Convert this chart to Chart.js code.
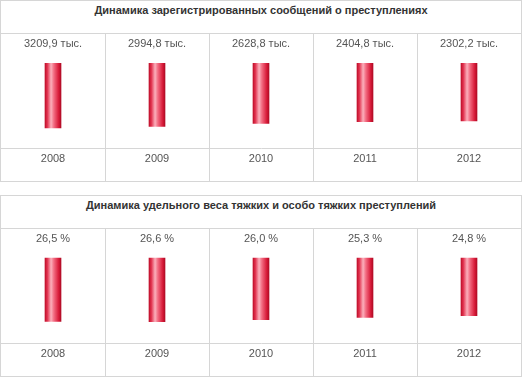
<!DOCTYPE html>
<html>
<head>
<meta charset="utf-8">
<script src="https://cdn.jsdelivr.net/npm/chart.js@4.4.1/dist/chart.umd.min.js"></script>
<style>
    body { margin: 0; background: #fff; font-family: "Liberation Sans", Arial, sans-serif; }
    .panel {
        position: absolute;
        left: 0;
        width: 522px;
        height: 182px;
        box-sizing: border-box;
        border: 1px solid #d6d6d6;
    }
    .panel-title {
        height: 33px;
        box-sizing: border-box;
        border-bottom: 1px solid #d6d6d6;
        text-align: center;
        font-weight: bold;
        font-size: 11px;
        line-height: 18px;
        color: #333;
    }
    .chart-box { position: relative; width: 520px; height: 147px; }
</style>
</head>
<body>

<div class="panel" style="top: 0;">
    <div class="panel-title">Динамика зарегистрированных сообщений о преступлениях</div>
    <div class="chart-box"><canvas id="reports-chart"></canvas></div>
</div>

<div class="panel" style="top: 195px;">
    <div class="panel-title">Динамика удельного веса тяжких и особо тяжких преступлений</div>
    <div class="chart-box"><canvas id="grave-chart"></canvas></div>
</div>

<script>
// Data
const years = ['2008', '2009', '2010', '2011', '2012'];
const reportsValues = [3209.9, 2994.8, 2628.8, 2404.8, 2302.2];   // тыс.
const graveShare = [26.5, 26.6, 26.0, 25.3, 24.8];                // %

const gridColor = '#d6d6d6';
const textColor = '#555';
const fontFamily = '"Liberation Sans", Arial, sans-serif';

// share of the plot height above the years row
const rowSplit = 114 / 147;

// Format value labels with comma decimal separator
function fmt(v, suffix) {
    return v.toFixed(1).replace('.', ',') + ' ' + suffix;
}

// Cylinder-like gradient for every bar, built from the bar's own x position
function barGradient(context) {
    const chart = context.chart;
    if (!chart.chartArea || context.dataIndex === undefined) return '#e0203c';
    const cx = chart.scales.x.getPixelForValue(context.dataIndex);
    const g = chart.ctx.createLinearGradient(cx - 8, 0, cx + 8, 0);
    g.addColorStop(0, '#c00f2b');
    g.addColorStop(0.15, '#e23450');
    g.addColorStop(0.38, '#fbb0bc');
    g.addColorStop(0.56, '#f26a80');
    g.addColorStop(0.85, '#d81c3a');
    g.addColorStop(1, '#b00a24');
    return g;
}

// Draws value text above the start of every bar
const valueLabels = {
    id: 'valueLabels',
    afterDatasetsDraw(chart, args, opts) {
        const ctx = chart.ctx;
        const meta = chart.getDatasetMeta(0);
        ctx.save();
        ctx.font = '11px ' + fontFamily;
        ctx.fillStyle = textColor;
        ctx.textAlign = 'center';
        ctx.textBaseline = 'middle';
        meta.data.forEach((bar, i) => {
            const top = Math.min(bar.y, bar.base);
            ctx.fillText(opts.format(chart.data.datasets[0].data[i]), bar.x, top - 19);
        });
        ctx.restore();
    }
};

function renderPanel(canvasId, values, base, yMin, yMax, suffix) {
    const ctx = document.getElementById(canvasId);
    return new Chart(ctx, {
        type: 'bar',
        data: {
            labels: years,
            datasets: [{
                data: values,
                base: base,
                backgroundColor: barGradient,
                borderWidth: 0,
                barThickness: 16
            }]
        },
        plugins: [valueLabels],
        options: {
            responsive: true,
            maintainAspectRatio: false,
            animation: false,
            layout: { padding: 0 },
            plugins: {
                legend: { display: false },
                tooltip: { enabled: false },
                valueLabels: { format: v => fmt(v, suffix) }
            },
            scales: {
                x: {
                    // axis sits inside the plot, years row below it
                    position: { y: yMin + (yMax - yMin) * rowSplit },
                    grid: {
                        offset: true,
                        // outer edges are drawn by the panel border
                        color: c => (c.index === undefined || c.index === 0) ? 'rgba(0,0,0,0)' : gridColor,
                        drawTicks: false
                    },
                    border: { display: true, color: gridColor },
                    ticks: {
                        color: textColor,
                        padding: 4,
                        font: { family: fontFamily, size: 11 }
                    }
                },
                y: {
                    display: false,
                    reverse: true,
                    min: yMin,
                    max: yMax
                }
            }
        }
    });
}

renderPanel('reports-chart', reportsValues, -5200, -9000, 10100, 'тыс.');
renderPanel('grave-chart', graveShare, 7.5, -1.2, 42.9, '%');
</script>
</body>
</html>
